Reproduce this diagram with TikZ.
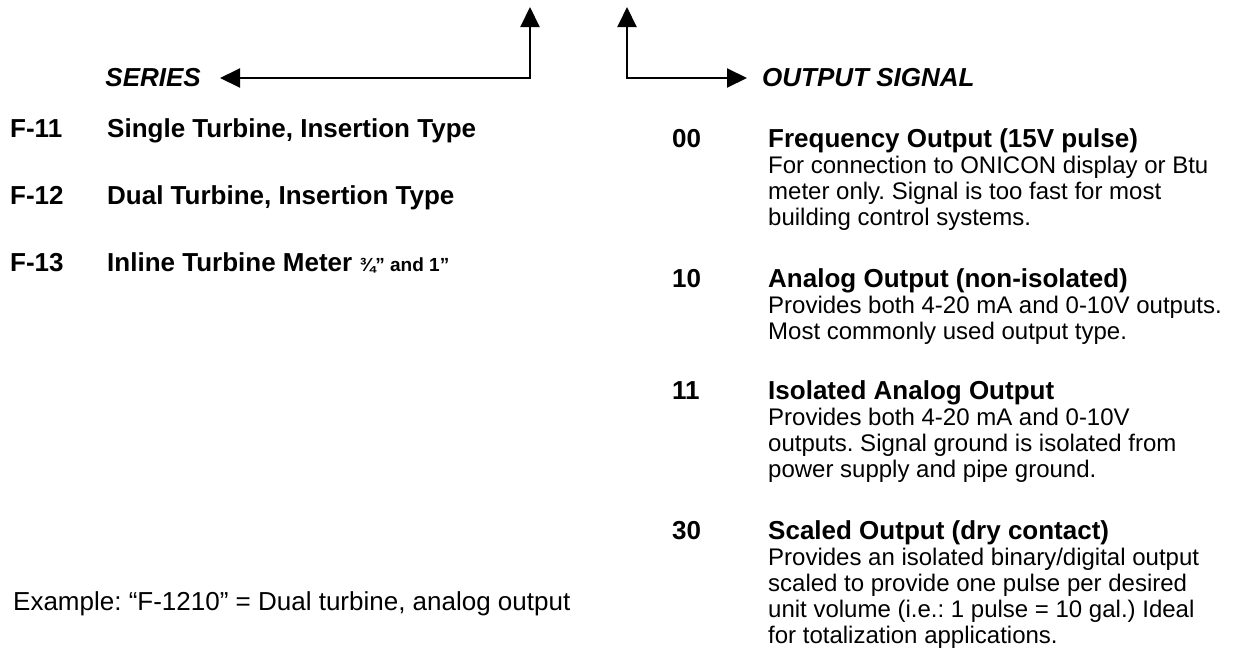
\documentclass[tikz,border=0pt]{standalone}
\usepackage{fontspec}
\setmainfont{Liberation Sans}
\frenchspacing
\usetikzlibrary{arrows.meta}
\tikzset{
  >={Triangle[length=20pt,width=19pt]},
  link/.style={<->, line width=2pt},
  tag/.style={inner ysep=0pt, font=\fontsize{26}{30}\selectfont\bfseries\itshape},
  code/.style={anchor=base west, inner sep=0pt, font=\fontsize{26}{30}\selectfont\bfseries},
  note/.style={anchor=base west, inner sep=0pt, align=left, font=\fontsize{24}{26}\selectfont},
}
\begin{document}
\begin{tikzpicture}[x=1pt,y=-1pt]
    \useasboundingbox (0,0) rectangle (1235,654);
    % labels and the two branches
    \node[tag, anchor=east, inner xsep=19pt] (series) at (220,78) {SERIES};
    \node[tag, anchor=west, inner xsep=15pt] (signal) at (747,78) {OUTPUT SIGNAL};
    \coordinate (seriesup) at (530,7);
    \coordinate (signalup) at (627,7);
    \draw[link] (seriesup) |- (series.east);
    \draw[link] (signalup) |- (signal.west);
    % series
    \node[code] (f11) at (10,137) {F-11};
    \node[code] (f11t) at (107,137) {Single Turbine, Insertion Type};
    \node[code] (f12) at (10,204) {F-12};
    \node[code] (f12t) at (107,204) {Dual Turbine, Insertion Type};
    \node[code] (f13) at (10,271) {F-13};
    \node[code] (f13t) at (107,271) {Inline Turbine Meter {\fontsize{19}{20}\selectfont ¾” and 1”}};
    \node[note, font=\fontsize{26}{30}\selectfont] (example) at (13,610) {Example: “F-1210” = Dual turbine, analog output};
    % output signal (note nodes sit on their last line)
    \node[code] (s00) at (672,147) {00};
    \node[code] (s00t) at (768,147) {Frequency Output (15V pulse)};
    \node[note] (s00d) at (768,225) {For connection to ONICON display or Btu\\meter only. Signal is too fast for most\\building control systems.};
    \node[code] (s10) at (672,287) {10};
    \node[code] (s10t) at (768,287) {Analog Output (non-isolated)};
    \node[note] (s10d) at (768,339) {Provides both 4-20 mA and 0-10V outputs.\\Most commonly used output type.};
    \node[code] (s11) at (672,399) {11};
    \node[code] (s11t) at (768,399) {Isolated Analog Output};
    \node[note] (s11d) at (768,477) {Provides both 4-20 mA and 0-10V\\outputs. Signal ground is isolated from\\power supply and pipe ground.};
    \node[code] (s30) at (672,539) {30};
    \node[code] (s30t) at (768,539) {Scaled Output (dry contact)};
    \node[note] (s30d) at (768,643) {Provides an isolated binary/digital output\\scaled to provide one pulse per desired\\unit volume (i.e.: 1 pulse = 10 gal.) Ideal\\for totalization applications.};
\end{tikzpicture}
\end{document}
